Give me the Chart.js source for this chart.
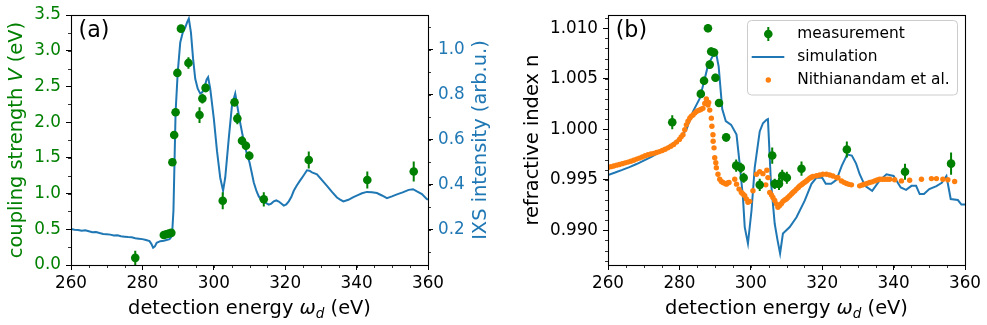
<!DOCTYPE html>
<html>
<head>
<meta charset="utf-8">
<script src="https://cdn.jsdelivr.net/npm/chart.js@4.4.0/dist/chart.umd.min.js"></script>
<style>
  html, body { margin: 0; padding: 0; background: #fff; }
  #wrap { position: relative; width: 987px; height: 325px; }
  #chartA { position: absolute; left: 0; top: 0; }
  #chartB { position: absolute; left: 500px; top: 0; }
</style>
</head>
<body>
<div id="wrap">
  <canvas id="chartA" width="500" height="325"></canvas>
  <canvas id="chartB" width="487" height="325"></canvas>
</div>
<script>
// ---- panel (a): coupling strength + IXS spectrum ----
const ixsEnergy = [260, 261, 262, 263, 264, 265, 266, 267, 268, 269, 270, 271, 272, 273, 274, 275, 276, 277, 278, 279,
  280, 281, 282, 282.5, 283, 283.5, 284, 285, 286, 287, 287.6, 288.0, 288.3, 288.7, 289.0, 289.3, 289.9, 290.6, 291.3, 292.0,
  292.6, 293.0, 293.6, 294.2, 294.8, 295.5, 296.2, 296.8, 297.5, 298.0, 298.4, 299.0, 300.0, 300.9, 301.8, 302.6, 303.2, 304.2,
  305.1, 306.0, 306.7, 307.5, 308.4, 309.3, 310.0, 310.6, 311.2, 312.0, 312.6, 313.4, 314.0, 314.7, 315.4, 316.1, 316.8, 317.5,
  318.2, 318.9, 319.6, 320.3, 321.0, 321.7, 322.4, 323.2, 324.1, 325.1, 326.1, 326.8, 327.5, 328.9, 330.3, 331.7, 333.1, 334.5,
  335.4, 336.3, 337.7, 339.1, 340.5, 341.5, 342.9, 344.3, 345.7, 347.1, 348.5, 349.9, 351.3, 352.9, 354.6, 355.8, 356.9, 358.3,
  359.7, 360];
const ixsIntensity = [0.203, 0.200, 0.199, 0.195, 0.197, 0.193, 0.189, 0.190, 0.185, 0.181, 0.180, 0.178, 0.174, 0.175, 0.171,
  0.169, 0.167, 0.166, 0.162, 0.160, 0.158, 0.154, 0.149, 0.137, 0.120, 0.126, 0.142, 0.149, 0.151, 0.155, 0.158, 0.165, 0.175,
  0.285, 0.505, 0.724, 0.900, 1.032, 1.076, 1.098, 1.125, 1.138, 1.076, 0.959, 0.871, 0.827, 0.805, 0.812, 0.840, 0.868, 0.878,
  0.827, 0.695, 0.549, 0.431, 0.373, 0.431, 0.607, 0.754, 0.805, 0.739, 0.666, 0.593, 0.534, 0.500, 0.455, 0.410, 0.370, 0.348,
  0.330, 0.321, 0.318, 0.311, 0.316, 0.326, 0.330, 0.325, 0.316, 0.307, 0.312, 0.326, 0.345, 0.373, 0.395, 0.417, 0.440, 0.464,
  0.462, 0.455, 0.446, 0.420, 0.395, 0.368, 0.343, 0.334, 0.326, 0.333, 0.345, 0.355, 0.362, 0.368, 0.366, 0.363, 0.352, 0.340,
  0.348, 0.357, 0.366, 0.377, 0.380, 0.370, 0.358, 0.336, 0.333];

const couplingEnergy = [278.0, 286.0, 286.7, 287.4, 288.1, 288.4, 288.9, 289.3, 289.8, 290.8, 292.9, 296.0, 296.8, 297.7,
  302.5, 305.8, 306.6, 307.9, 309.0, 309.95, 314.0, 326.6, 343.0, 356.0];
const couplingV = [0.10, 0.42, 0.43, 0.44, 0.45, 1.44, 1.82, 2.14, 2.69, 3.31, 2.83, 2.10, 2.33, 2.48,
  0.90, 2.28, 2.05, 1.74, 1.67, 1.53, 0.92, 1.47, 1.19, 1.31];
const couplingErr = [0.10, 0.05, 0.05, 0.05, 0.05, 0.05, 0.05, 0.05, 0.05, 0.05, 0.08, 0.11, 0.07, 0.06,
  0.12, 0.06, 0.08, 0.06, 0.06, 0.06, 0.10, 0.12, 0.12, 0.14];

// ---- panel (b): refractive index ----
const measEnergy = [278.0, 286.0, 286.9, 288.0, 288.5, 288.9, 289.7, 290.1, 291.1, 293.1, 295.9, 297.2, 298.0, 302.5,
  306.0, 306.7, 307.9, 308.8, 310.1, 314.2, 326.9, 343.2, 356.1];
const measN = [1.0007, 1.0035, 1.0048, 1.0100, 1.0064, 1.0077, 1.0076, 1.0051, 1.0026, 0.9992, 0.9964, 0.9962, 0.9952, 0.9945,
  0.9974, 0.9946, 0.9946, 0.9954, 0.9952, 0.9961, 0.9980, 0.9958, 0.9966];
const measErr = [0.0007, 0.0004, 0.0004, 0.0004, 0.0004, 0.0004, 0.0004, 0.0004, 0.0004, 0.0004, 0.0006, 0.0005, 0.0005, 0.0006,
  0.0008, 0.0005, 0.0006, 0.0006, 0.0006, 0.0007, 0.0008, 0.0008, 0.0011];

const simEnergy = [260, 262, 264, 266, 268, 270, 272, 274, 276, 278, 280, 282, 283.8, 285.7, 287.1, 288.0, 289.4, 290.3, 291.0,
  292.0, 293.0, 294.5, 296.0, 296.9, 297.8, 298.3, 299.2, 300.2, 301.1, 302.5, 303.4, 304.4, 304.8, 305.6, 306.7, 307.5, 308.2,
  309.0, 310.9, 312.8, 315.1, 317.0, 318.4, 320.0, 321.0, 322.5, 324.0, 325.5, 327.0, 328.3, 329.5, 330.5, 332.0, 334.0, 336.0,
  338.0, 340.0, 342.0, 343.5, 345.0, 346.3, 347.3, 348.5, 350.0, 352.0, 353.5, 354.8, 356.0, 358.0, 359.0, 360.0];
const simN = [0.99548, 0.99572, 0.99598, 0.99626, 0.99656, 0.99690, 0.99725, 0.99765, 0.99810, 0.99855, 0.99905, 1.00000,
  1.00175, 1.00305, 1.00500, 1.00632, 1.00730, 1.00750, 1.00620, 1.00200, 1.00080, 1.00044, 0.99947, 0.99653, 0.99326,
  0.99032, 0.98870, 0.99196, 0.99620, 0.99979, 1.00060, 1.00093, 1.00100, 0.99500, 0.99065, 0.98900, 0.98772, 0.98968,
  0.99033, 0.99130, 0.99294, 0.99460, 0.99522, 0.99520, 0.99460, 0.99460, 0.99500, 0.99640, 0.99750, 0.99740, 0.99660,
  0.99555, 0.99440, 0.99391, 0.99490, 0.99555, 0.99538, 0.99424, 0.99400, 0.99440, 0.99440, 0.99359, 0.99359, 0.99408,
  0.99437, 0.99470, 0.99538, 0.99310, 0.99300, 0.99255, 0.99255];

const nithEnergy = [260.0, 260.8, 261.6, 262.4, 263.2, 264.0, 264.8, 265.6, 266.4, 267.2, 268.0, 268.8, 269.6, 270.4, 271.2,
  272.0, 272.8, 273.6, 274.4, 275.2, 276.0, 276.8, 277.6, 278.4, 279.2, 280.0, 280.5, 281.0, 281.5, 281.95, 282.4, 282.9, 283.3,
  283.8, 284.3, 284.75, 285.2, 285.7, 286.1, 286.6, 287.1, 287.55, 288.0, 288.2, 288.5, 288.95, 289.1, 289.4, 289.45, 289.7,
  289.9, 290.2, 290.35, 290.8, 291.3, 291.75, 292.2, 292.7, 293.15, 293.5, 293.9, 295.5, 296.0, 296.7, 297.35, 297.8, 298.3,
  298.75, 299.2, 299.7, 300.6, 301.6, 302.5, 303.4, 304.2, 304.5, 304.8, 305.3, 305.8, 306.2, 306.7, 307.2, 307.6, 308.1, 308.6,
  309.0, 309.5, 309.96, 310.4, 310.9, 311.4, 311.8, 312.3, 312.8, 313.3, 313.7, 314.2, 314.6, 315.1, 315.6, 316.0, 316.5, 317.0,
  317.4, 318.4, 319.3, 320.2, 321.2, 322.1, 323.0, 324.0, 324.4, 325.4, 326.1, 326.8, 327.5, 328.2, 330.5, 331.2, 331.9, 332.6,
  333.3, 334.0, 334.7, 335.4, 336.1, 336.8, 337.5, 338.2, 338.9, 340.3, 342.2, 344.5, 347.8, 350.6, 352.0, 353.8, 355.2, 357.1];
const nithN = [0.99622, 0.99630, 0.99637, 0.99645, 0.99652, 0.99660, 0.99668, 0.99675, 0.99684, 0.99694, 0.99705, 0.99715,
  0.99726, 0.99738, 0.99748, 0.99755, 0.99762, 0.99770, 0.99779, 0.99790, 0.99802, 0.99816, 0.99832, 0.99850, 0.99873, 0.99900,
  0.99925, 0.99946, 0.99995, 1.00044, 1.00080, 1.00110, 1.00128, 1.00142, 1.00160, 1.00175, 1.00185, 1.00191, 1.00198, 1.00207,
  1.00256, 1.00299, 1.00240, 1.00265, 1.00190, 1.00110, 1.00030, 0.99946, 0.99881, 0.99816, 0.99718, 0.99669, 0.99620, 0.99555,
  0.99506, 0.99483, 0.99473, 0.99465, 0.99457, 0.99468, 0.99473, 0.99506, 0.99457, 0.99408, 0.99375, 0.99360, 0.99343, 0.99310,
  0.99277, 0.99287, 0.99391, 0.99555, 0.99581, 0.99561, 0.99450, 0.99594, 0.99522, 0.99375, 0.99350, 0.99326, 0.99295, 0.99261,
  0.99229, 0.99245, 0.99265, 0.99287, 0.99300, 0.99310, 0.99325, 0.99343, 0.99360, 0.99375, 0.99390, 0.99408, 0.99425, 0.99440,
  0.99452, 0.99463, 0.99476, 0.99489, 0.99502, 0.99516, 0.99525, 0.99532, 0.99540, 0.99548, 0.99555, 0.99555, 0.99548, 0.99538,
  0.99522, 0.99520, 0.99489, 0.99475, 0.99463, 0.99455, 0.99450, 0.99440, 0.99448, 0.99457, 0.99465, 0.99473, 0.99480, 0.99489,
  0.99498, 0.99506, 0.99506, 0.99506, 0.99506, 0.99506, 0.99500, 0.99489, 0.99496, 0.99506, 0.99512, 0.99512, 0.99506, 0.99500,
  0.99483];

// tick labels
const energyTicks = [260, 280, 300, 320, 340, 360];
const couplingTicks = [0, 0.5, 1.0, 1.5, 2.0, 2.5, 3.0, 3.5];
const ixsTicks = [0.2, 0.4, 0.6, 0.8, 1.0];
const indexTicks = [0.990, 0.995, 1.000, 1.005, 1.010];

const legendLabels = ['measurement', 'simulation', 'Nithianandam et al.'];

const GREEN = '#008000';
const BLUE = '#1f77b4';
const ORANGE = '#ff7f0e';
const FAMILY = "'DejaVu Sans', sans-serif";
const TICK_SIZE = 16.8;
const LABEL_SIZE = 19.4;

function toPoints(xs, ys) {
  return xs.map((x, i) => ({ x: x, y: ys[i] }));
}

function fixedTicks(values) {
  return function (scale) {
    scale.ticks = values.map(v => ({ value: v }));
  };
}

function fnt(size, style) {
  return (style || 'normal') + ' ' + size + 'px ' + FAMILY;
}

// text made of pieces with different styles, centred on (cx, baseline)
function drawRich(ctx, parts, cx, base, rotated, color) {
  ctx.save();
  ctx.fillStyle = color;
  ctx.textBaseline = 'alphabetic';
  ctx.textAlign = 'left';
  let total = 0;
  parts.forEach(p => {
    ctx.font = p.font;
    p.w = ctx.measureText(p.text).width;
    total += p.w;
  });
  ctx.translate(cx, base);
  if (rotated) ctx.rotate(-Math.PI / 2);
  let x = -total / 2;
  parts.forEach(p => {
    ctx.font = p.font;
    ctx.fillText(p.text, x, p.dy || 0);
    x += p.w;
  });
  ctx.restore();
}

function drawFrame(ctx, a) {
  ctx.save();
  ctx.strokeStyle = '#000';
  ctx.lineWidth = 1.1;
  ctx.strokeRect(Math.round(a.left) + 0.5, Math.round(a.top) + 0.5,
    Math.round(a.right) - Math.round(a.left), Math.round(a.bottom) - Math.round(a.top));
  ctx.restore();
}

function minorTicks(ctx, scale, step, side, a) {
  ctx.save();
  ctx.strokeStyle = '#000';
  ctx.lineWidth = 0.8;
  ctx.beginPath();
  const n = Math.round((scale.max - scale.min) / step) + 2;
  const start = Math.ceil(scale.min / step - 1e-6);
  for (let k = start; k < start + n; k++) {
    const v = k * step;
    if (v > scale.max + 1e-9) break;
    const p = Math.round(scale.getPixelForValue(v)) + 0.5;
    if (side === 'bottom') { ctx.moveTo(p, a.bottom); ctx.lineTo(p, a.bottom + 3); }
    if (side === 'left') { ctx.moveTo(a.left, p); ctx.lineTo(a.left - 3, p); }
    if (side === 'right') { ctx.moveTo(a.right, p); ctx.lineTo(a.right + 3, p); }
  }
  ctx.stroke();
  ctx.restore();
}

function errorBars(chart, xs, ys, errs, yId, color) {
  const ctx = chart.ctx;
  const sx = chart.scales.x, sy = chart.scales[yId];
  ctx.save();
  ctx.strokeStyle = color;
  ctx.lineWidth = 2;
  ctx.beginPath();
  for (let i = 0; i < xs.length; i++) {
    const px = sx.getPixelForValue(xs[i]);
    ctx.moveTo(px, sy.getPixelForValue(ys[i] - errs[i]));
    ctx.lineTo(px, sy.getPixelForValue(ys[i] + errs[i]));
  }
  ctx.stroke();
  ctx.restore();
}

function xTitle(ctx, a) {
  drawRich(ctx, [
    { text: 'detection energy ', font: fnt(LABEL_SIZE) },
    { text: 'ω', font: fnt(LABEL_SIZE, 'italic') },
    { text: 'd', font: fnt(LABEL_SIZE * 0.7, 'italic'), dy: 3.5 },
    { text: ' (eV)', font: fnt(LABEL_SIZE) }
  ], (a.left + a.right) / 2, 314, false, '#000');
}

function axisX() {
  return {
    type: 'linear', min: 260, max: 360,
    afterBuildTicks: fixedTicks(energyTicks),
    afterFit: s => { s.height = 60; },
    ticks: { font: { family: FAMILY, size: TICK_SIZE }, color: '#000', padding: 4, autoSkip: false, maxRotation: 0,
      callback: v => String(v) },
    grid: { drawOnChartArea: false, tickLength: 5, tickColor: '#000', tickWidth: 1 },
    border: { display: false }
  };
}

const panelA = {
  id: 'panelA',
  afterDatasetsDraw(chart) {
    errorBars(chart, couplingEnergy, couplingV, couplingErr, 'y', GREEN);
  },
  afterDraw(chart) {
    const ctx = chart.ctx, a = chart.chartArea;
    drawFrame(ctx, a);
    minorTicks(ctx, chart.scales.x, 5, 'bottom', a);
    minorTicks(ctx, chart.scales.y, 0.25, 'left', a);
    minorTicks(ctx, chart.scales.y2, 0.1, 'right', a);
    xTitle(ctx, a);
    drawRich(ctx, [
      { text: 'coupling strength ', font: fnt(LABEL_SIZE) },
      { text: 'V', font: fnt(LABEL_SIZE, 'italic') },
      { text: ' (eV)', font: fnt(LABEL_SIZE) }
    ], 21.5, (a.top + a.bottom) / 2, true, GREEN);
    drawRich(ctx, [{ text: 'IXS intensity (arb.u.)', font: fnt(LABEL_SIZE) }],
      486.4, (a.top + a.bottom) / 2, true, BLUE);
    ctx.save();
    ctx.font = fnt(22.2);
    ctx.fillStyle = '#000';
    ctx.textBaseline = 'middle';
    ctx.fillText('(a)', a.left + 7.5, 31);
    ctx.restore();
  }
};

const panelB = {
  id: 'panelB',
  afterDatasetsDraw(chart) {
    errorBars(chart, measEnergy, measN, measErr, 'y', GREEN);
  },
  afterDraw(chart) {
    const ctx = chart.ctx, a = chart.chartArea;
    drawFrame(ctx, a);
    minorTicks(ctx, chart.scales.x, 5, 'bottom', a);
    minorTicks(ctx, chart.scales.y, 0.001, 'left', a);
    xTitle(ctx, a);
    drawRich(ctx, [{ text: 'refractive index n', font: fnt(LABEL_SIZE) }],
      38, (a.top + a.bottom) / 2, true, '#000');
    ctx.save();
    ctx.font = fnt(22.2);
    ctx.fillStyle = '#000';
    ctx.textBaseline = 'middle';
    ctx.fillText('(b)', a.left + 7.7, 31);

    // legend box, top right inside the axes
    const bx = 247.5, by = 20.5, bw = 210, bh = 74.5;
    ctx.beginPath();
    ctx.roundRect(bx, by, bw, bh, 4);
    ctx.fillStyle = 'rgba(255,255,255,0.8)';
    ctx.fill();
    ctx.strokeStyle = '#cccccc';
    ctx.lineWidth = 1;
    ctx.stroke();
    const rows = [34, 57, 80];
    const mx = 268.3;
    // measurement marker with error bar
    ctx.strokeStyle = GREEN;
    ctx.lineWidth = 2;
    ctx.beginPath();
    ctx.moveTo(mx, rows[0] - 7);
    ctx.lineTo(mx, rows[0] + 7);
    ctx.stroke();
    ctx.fillStyle = GREEN;
    ctx.beginPath();
    ctx.arc(mx, rows[0], 4.3, 0, Math.PI * 2);
    ctx.fill();
    // simulation line
    ctx.strokeStyle = BLUE;
    ctx.lineWidth = 2;
    ctx.beginPath();
    ctx.moveTo(251.7, rows[1]);
    ctx.lineTo(284.3, rows[1]);
    ctx.stroke();
    // Nithianandam dot
    ctx.fillStyle = ORANGE;
    ctx.beginPath();
    ctx.arc(mx, rows[2], 2.7, 0, Math.PI * 2);
    ctx.fill();
    ctx.fillStyle = '#000';
    ctx.font = fnt(15.4);
    legendLabels.forEach((t, i) => ctx.fillText(t, 297.3, rows[i]));
    ctx.restore();
  }
};

new Chart(document.getElementById('chartA'), {
  type: 'scatter',
  data: {
    datasets: [
      {
        label: 'coupling strength', data: toPoints(couplingEnergy, couplingV), yAxisID: 'y',
        backgroundColor: GREEN, borderColor: GREEN, pointRadius: 4.3, pointBorderWidth: 0
      },
      {
        label: 'IXS intensity', data: toPoints(ixsEnergy, ixsIntensity), yAxisID: 'y2', showLine: true,
        borderColor: BLUE, borderWidth: 2, pointRadius: 0, tension: 0
      }
    ]
  },
  options: {
    responsive: false,
    animation: false,
    layout: { padding: { top: 12, left: 0, right: 0, bottom: 0 } },
    plugins: { legend: { display: false }, tooltip: { enabled: false } },
    scales: {
      x: axisX(),
      y: {
        type: 'linear', position: 'left', min: 0, max: 3.5,
        afterBuildTicks: fixedTicks(couplingTicks),
        afterFit: s => { s.width = 71; },
        ticks: { font: { family: FAMILY, size: TICK_SIZE }, color: GREEN, padding: 5, callback: v => v.toFixed(1) },
        grid: { drawOnChartArea: false, tickLength: 5, tickColor: '#000', tickWidth: 1 },
        border: { display: false }
      },
      y2: {
        type: 'linear', position: 'right', min: 0.043, max: 1.154,
        afterBuildTicks: fixedTicks(ixsTicks),
        afterFit: s => { s.width = 72; },
        ticks: { font: { family: FAMILY, size: TICK_SIZE }, color: BLUE, padding: 5, callback: v => v.toFixed(1) },
        grid: { drawOnChartArea: false, tickLength: 5, tickColor: '#000', tickWidth: 1 },
        border: { display: false }
      }
    }
  },
  plugins: [panelA]
});

new Chart(document.getElementById('chartB'), {
  type: 'scatter',
  data: {
    datasets: [
      {
        label: legendLabels[0], data: toPoints(measEnergy, measN),
        backgroundColor: GREEN, borderColor: GREEN, pointRadius: 4.3, pointBorderWidth: 0
      },
      {
        label: legendLabels[2], data: toPoints(nithEnergy, nithN),
        backgroundColor: ORANGE, borderColor: ORANGE, pointRadius: 2.7, pointBorderWidth: 0
      },
      {
        label: legendLabels[1], data: toPoints(simEnergy, simN), showLine: true,
        borderColor: BLUE, borderWidth: 2, pointRadius: 0, tension: 0
      }
    ]
  },
  options: {
    responsive: false,
    animation: false,
    layout: { padding: { top: 12, left: 0, right: 22, bottom: 0 } },
    plugins: { legend: { display: false }, tooltip: { enabled: false } },
    scales: {
      x: axisX(),
      y: {
        type: 'linear', position: 'left', min: 0.98657, max: 1.0113,
        afterBuildTicks: fixedTicks(indexTicks),
        afterFit: s => { s.width = 108; },
        ticks: { font: { family: FAMILY, size: TICK_SIZE }, color: '#000', padding: 5, callback: v => v.toFixed(3) },
        grid: { drawOnChartArea: false, tickLength: 5, tickColor: '#000', tickWidth: 1 },
        border: { display: false }
      }
    }
  },
  plugins: [panelB]
});
</script>
</body>
</html>
